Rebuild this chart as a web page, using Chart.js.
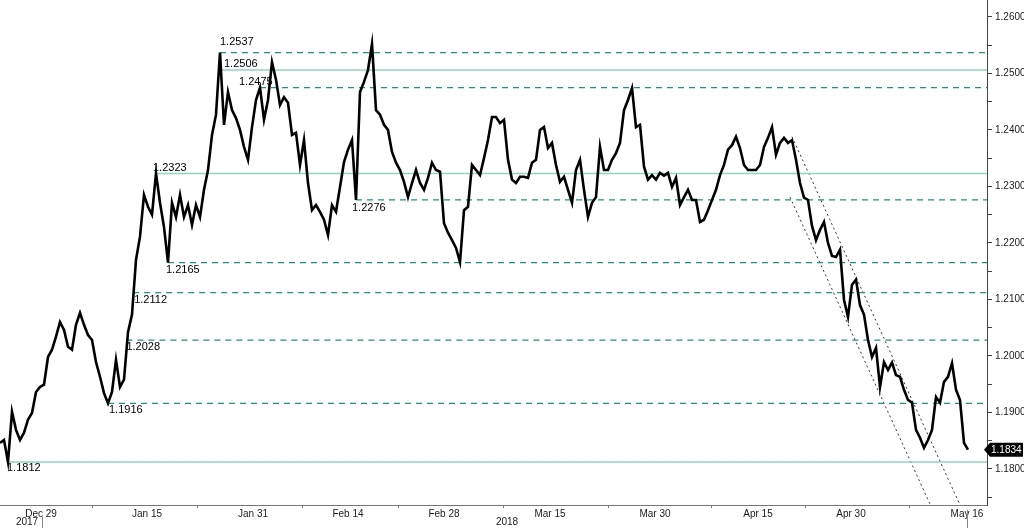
<!DOCTYPE html>
<html lang="en">
<head>
<meta charset="UTF-8">
<title>EUR/USD</title>
<script src="https://cdn.jsdelivr.net/npm/chart.js"></script>
<style>
  html, body { margin: 0; padding: 0; background: #fff; }
  #wrap { width: 1024px; height: 528px; }
</style>
</head>
<body>
<div id="wrap"><canvas id="fx" width="1024" height="528"></canvas></div>
<script>
// price, one sample per step (~0.42 trading day)
const prices = [
  1.1846, 1.1851, 1.1812, 1.1901, 1.1869, 1.1851, 1.1864, 1.1887, 1.1899, 1.1936,
  1.1945, 1.1949, 1.1998, 1.2011, 1.2034, 1.2060, 1.2046, 1.2016, 1.2011, 1.2055,
  1.2076, 1.2055, 1.2037, 1.2028, 1.1989, 1.1963, 1.1934, 1.1916, 1.1936, 1.1993,
  1.1945, 1.1958, 1.2042, 1.2073, 1.2170, 1.2211, 1.2285, 1.2264, 1.2250, 1.2323,
  1.2271, 1.2228, 1.2165, 1.2271, 1.2246, 1.2285, 1.2246, 1.2267, 1.2232, 1.2267,
  1.2246, 1.2294, 1.2329, 1.2391, 1.2427, 1.2537, 1.2409, 1.2467, 1.2435, 1.2421,
  1.2400, 1.2370, 1.2347, 1.2405, 1.2453, 1.2475, 1.2418, 1.2453, 1.2520, 1.2489,
  1.2444, 1.2458, 1.2448, 1.2391, 1.2395, 1.2338, 1.2382, 1.2306, 1.2258, 1.2267,
  1.2255, 1.2241, 1.2214, 1.2267, 1.2255, 1.2299, 1.2343, 1.2365, 1.2382, 1.2276,
  1.2467, 1.2485, 1.2506, 1.2552, 1.2435, 1.2427, 1.2409, 1.2400, 1.2361, 1.2342,
  1.2329, 1.2308, 1.2281, 1.2306, 1.2329, 1.2306, 1.2294, 1.2315, 1.2342, 1.2329,
  1.2326, 1.2235, 1.2218, 1.2205, 1.2191, 1.2166, 1.2258, 1.2264, 1.2338, 1.2329,
  1.2320, 1.2350, 1.2382, 1.2423, 1.2423, 1.2412, 1.2418, 1.2347, 1.2312, 1.2306,
  1.2317, 1.2317, 1.2315, 1.2342, 1.2347, 1.2400, 1.2405, 1.2368, 1.2377, 1.2338,
  1.2308, 1.2317, 1.2294, 1.2271, 1.2329, 1.2347, 1.2294, 1.2246, 1.2271, 1.2281,
  1.2370, 1.2329, 1.2329, 1.2347, 1.2359, 1.2377, 1.2435, 1.2453, 1.2474, 1.2405,
  1.2409, 1.2335, 1.2312, 1.2320, 1.2312, 1.2324, 1.2319, 1.2324, 1.2299, 1.2315,
  1.2267, 1.2281, 1.2294, 1.2276, 1.2276, 1.2237, 1.2241, 1.2258, 1.2276, 1.2294,
  1.2320, 1.2338, 1.2365, 1.2373, 1.2388, 1.2368, 1.2338, 1.2329, 1.2329, 1.2329,
  1.2338, 1.2370, 1.2386, 1.2405, 1.2356, 1.2377, 1.2386, 1.2377, 1.2382, 1.2347,
  1.2306, 1.2280, 1.2276, 1.2230, 1.2205, 1.2223, 1.2237, 1.2200, 1.2177, 1.2175,
  1.2188, 1.2099, 1.2069, 1.2126, 1.2135, 1.2090, 1.2073, 1.2028, 1.1998, 1.2014,
  1.1945, 1.1989, 1.1975, 1.1988, 1.1966, 1.1963, 1.1940, 1.1922, 1.1917, 1.1869,
  1.1855, 1.1837, 1.1851, 1.1869, 1.1927, 1.1917, 1.1954, 1.1963, 1.1987, 1.1940,
  1.1922, 1.1846, 1.1834
];
const lastPrice = 1.1834;

const dateLabels = ['Dec 29', 'Jan 15', 'Jan 31', 'Feb 14', 'Feb 28', 'Mar 15', 'Mar 30', 'Apr 15', 'Apr 30', 'May 16'];
const datePos = [10.25, 36.75, 63.25, 87, 111, 137.5, 163.75, 189.5, 212.75, 241.75];
const tickMarkPos = [23, 49.25, 75.5, 99.5, 125.75, 152, 177.75, 201.25, 227.25];
const yearLabels = ['2017', '2018'];
const yearPos = [6.75, 126.75];
const yearSepPos = [10.5, 241.75];

// support / resistance levels and where they start
const levels = [1.2537, 1.2506, 1.2475, 1.2323, 1.2276, 1.2165, 1.2112, 1.2028, 1.1916, 1.1812];
const levelStart = [55, 55.5, 65, 39, 89, 42, 33.3, 31.6, 27, 2];
const levelSolid = [false, true, false, true, false, false, false, false, false, true];

// falling channel
const channelUpper = [[198, 1.2388], [240, 1.1736]];
const channelLower = [[197.5, 1.2281], [232.6, 1.1736]];

const X_MAX = 246.75;
const Y_MIN = 1.1736, Y_MAX = 1.2630;

// label offsets in px from line start
const labelOffset = [[0, -11], [2, -6], [-21, -6], [-3, -5], [-4, 8], [-2, 7], [1, 7], [0, 7], [1, 7], [-1, 6]];

const SOLID = '#93d3bf';
const DASHED = '#23917c';

const yTickVals = [];
for (let k = 235; k <= 252; k++) yTickVals.push(+(k * 0.005).toFixed(3));
const xTickVals = [...datePos, ...tickMarkPos].sort((a, b) => a - b);

const datasets = [{
    data: prices.map((p, i) => ({ x: i, y: p })),
    borderColor: '#000',
    borderWidth: 2.6,
    pointRadius: 0,
    tension: 0
}];
levels.forEach((lv, i) => {
    datasets.push({
        data: [{ x: levelStart[i], y: lv }, { x: X_MAX, y: lv }],
        borderColor: levelSolid[i] ? SOLID : DASHED,
        borderWidth: levelSolid[i] ? 1.5 : 1.2,
        borderDash: levelSolid[i] ? [] : [6, 5],
        pointRadius: 0
    });
});
[channelUpper, channelLower].forEach(ch => {
    datasets.push({
        data: ch.map(p => ({ x: p[0], y: p[1] })),
        borderColor: '#333',
        borderWidth: 1,
        borderDash: [2, 3],
        pointRadius: 0
    });
});

const annot = {
    id: 'annot',
    afterDatasetsDraw(chart) {
        const { ctx, scales: { x, y } } = chart;
        ctx.save();
        ctx.font = '11px "Liberation Sans", Arial, sans-serif';
        ctx.fillStyle = '#000';
        ctx.textAlign = 'left';
        ctx.textBaseline = 'middle';
        levels.forEach((lv, i) => {
            const sx = x.getPixelForValue(levelStart[i]);
            const sy = y.getPixelForValue(lv);
            ctx.fillText(lv.toFixed(4), sx + labelOffset[i][0], sy + labelOffset[i][1]);
        });
        ctx.restore();
    },
    afterDraw(chart) {
        const { ctx, scales: { x, y }, chartArea } = chart;
        ctx.save();
        // last price tag
        const ty = y.getPixelForValue(lastPrice);
        const left = chartArea.right - 3;
        ctx.fillStyle = '#000';
        ctx.beginPath();
        ctx.moveTo(left, ty);
        ctx.lineTo(left + 6, ty - 7);
        ctx.lineTo(1023, ty - 7);
        ctx.lineTo(1023, ty + 7);
        ctx.lineTo(left + 6, ty + 7);
        ctx.closePath();
        ctx.fill();
        ctx.fillStyle = '#fff';
        ctx.font = '10px "Liberation Sans", Arial, sans-serif';
        ctx.textBaseline = 'middle';
        ctx.fillText(lastPrice.toFixed(4), left + 7, ty + 0.5);
        // year labels and separators
        ctx.fillStyle = '#1a1a1a';
        ctx.textAlign = 'center';
        ctx.fillText(yearLabels[0], x.getPixelForValue(yearPos[0]), 522);
        ctx.fillText(yearLabels[1], x.getPixelForValue(yearPos[1]), 522);
        ctx.strokeStyle = '#888';
        ctx.lineWidth = 1;
        yearSepPos.forEach((v, i) => {
            const px = Math.round(x.getPixelForValue(v)) + 0.5;
            ctx.beginPath();
            ctx.moveTo(px, i === 0 ? 517 : 510);
            ctx.lineTo(px, 528);
            ctx.stroke();
        });
        ctx.restore();
    }
};

new Chart(document.getElementById('fx'), {
    type: 'line',
    data: { datasets },
    options: {
        responsive: false,
        animation: false,
        devicePixelRatio: 1,
        layout: { padding: 0 },
        plugins: { legend: { display: false }, tooltip: { enabled: false } },
        scales: {
            x: {
                type: 'linear',
                min: 0,
                max: X_MAX,
                afterBuildTicks: s => { s.ticks = xTickVals.map(v => ({ value: v })); },
                afterFit: s => { s.height = 23; s.paddingLeft = 0; s.paddingRight = 0; },
                border: { display: true, color: '#777', width: 1 },
                grid: {
                    drawOnChartArea: false,
                    tickLength: 3,
                    tickColor: c => datePos.includes(c.tick.value) ? 'rgba(0,0,0,0)' : '#777'
                },
                ticks: {
                    autoSkip: false,
                    maxRotation: 0,
                    padding: 0,
                    color: '#1a1a1a',
                    font: { family: '"Liberation Sans", Arial, sans-serif', size: 10 },
                    callback: v => {
                        const k = datePos.indexOf(v);
                        return k >= 0 ? dateLabels[k] : '';
                    }
                }
            },
            y: {
                type: 'linear',
                position: 'right',
                min: Y_MIN,
                max: Y_MAX,
                afterBuildTicks: s => { s.ticks = yTickVals.map(v => ({ value: v })); },
                afterFit: s => { s.width = 37; s.paddingTop = 0; s.paddingBottom = 0; },
                border: { display: true, color: '#444', width: 1 },
                grid: { drawOnChartArea: false, tickLength: 5, tickColor: '#444' },
                ticks: {
                    padding: 3,
                    color: '#1a1a1a',
                    font: { family: '"Liberation Sans", Arial, sans-serif', size: 10 },
                    callback: v => Math.abs(Math.round(v * 100) - v * 100) < 1e-6 ? v.toFixed(4) : ''
                }
            }
        }
    },
    plugins: [annot]
});
</script>
</body>
</html>
